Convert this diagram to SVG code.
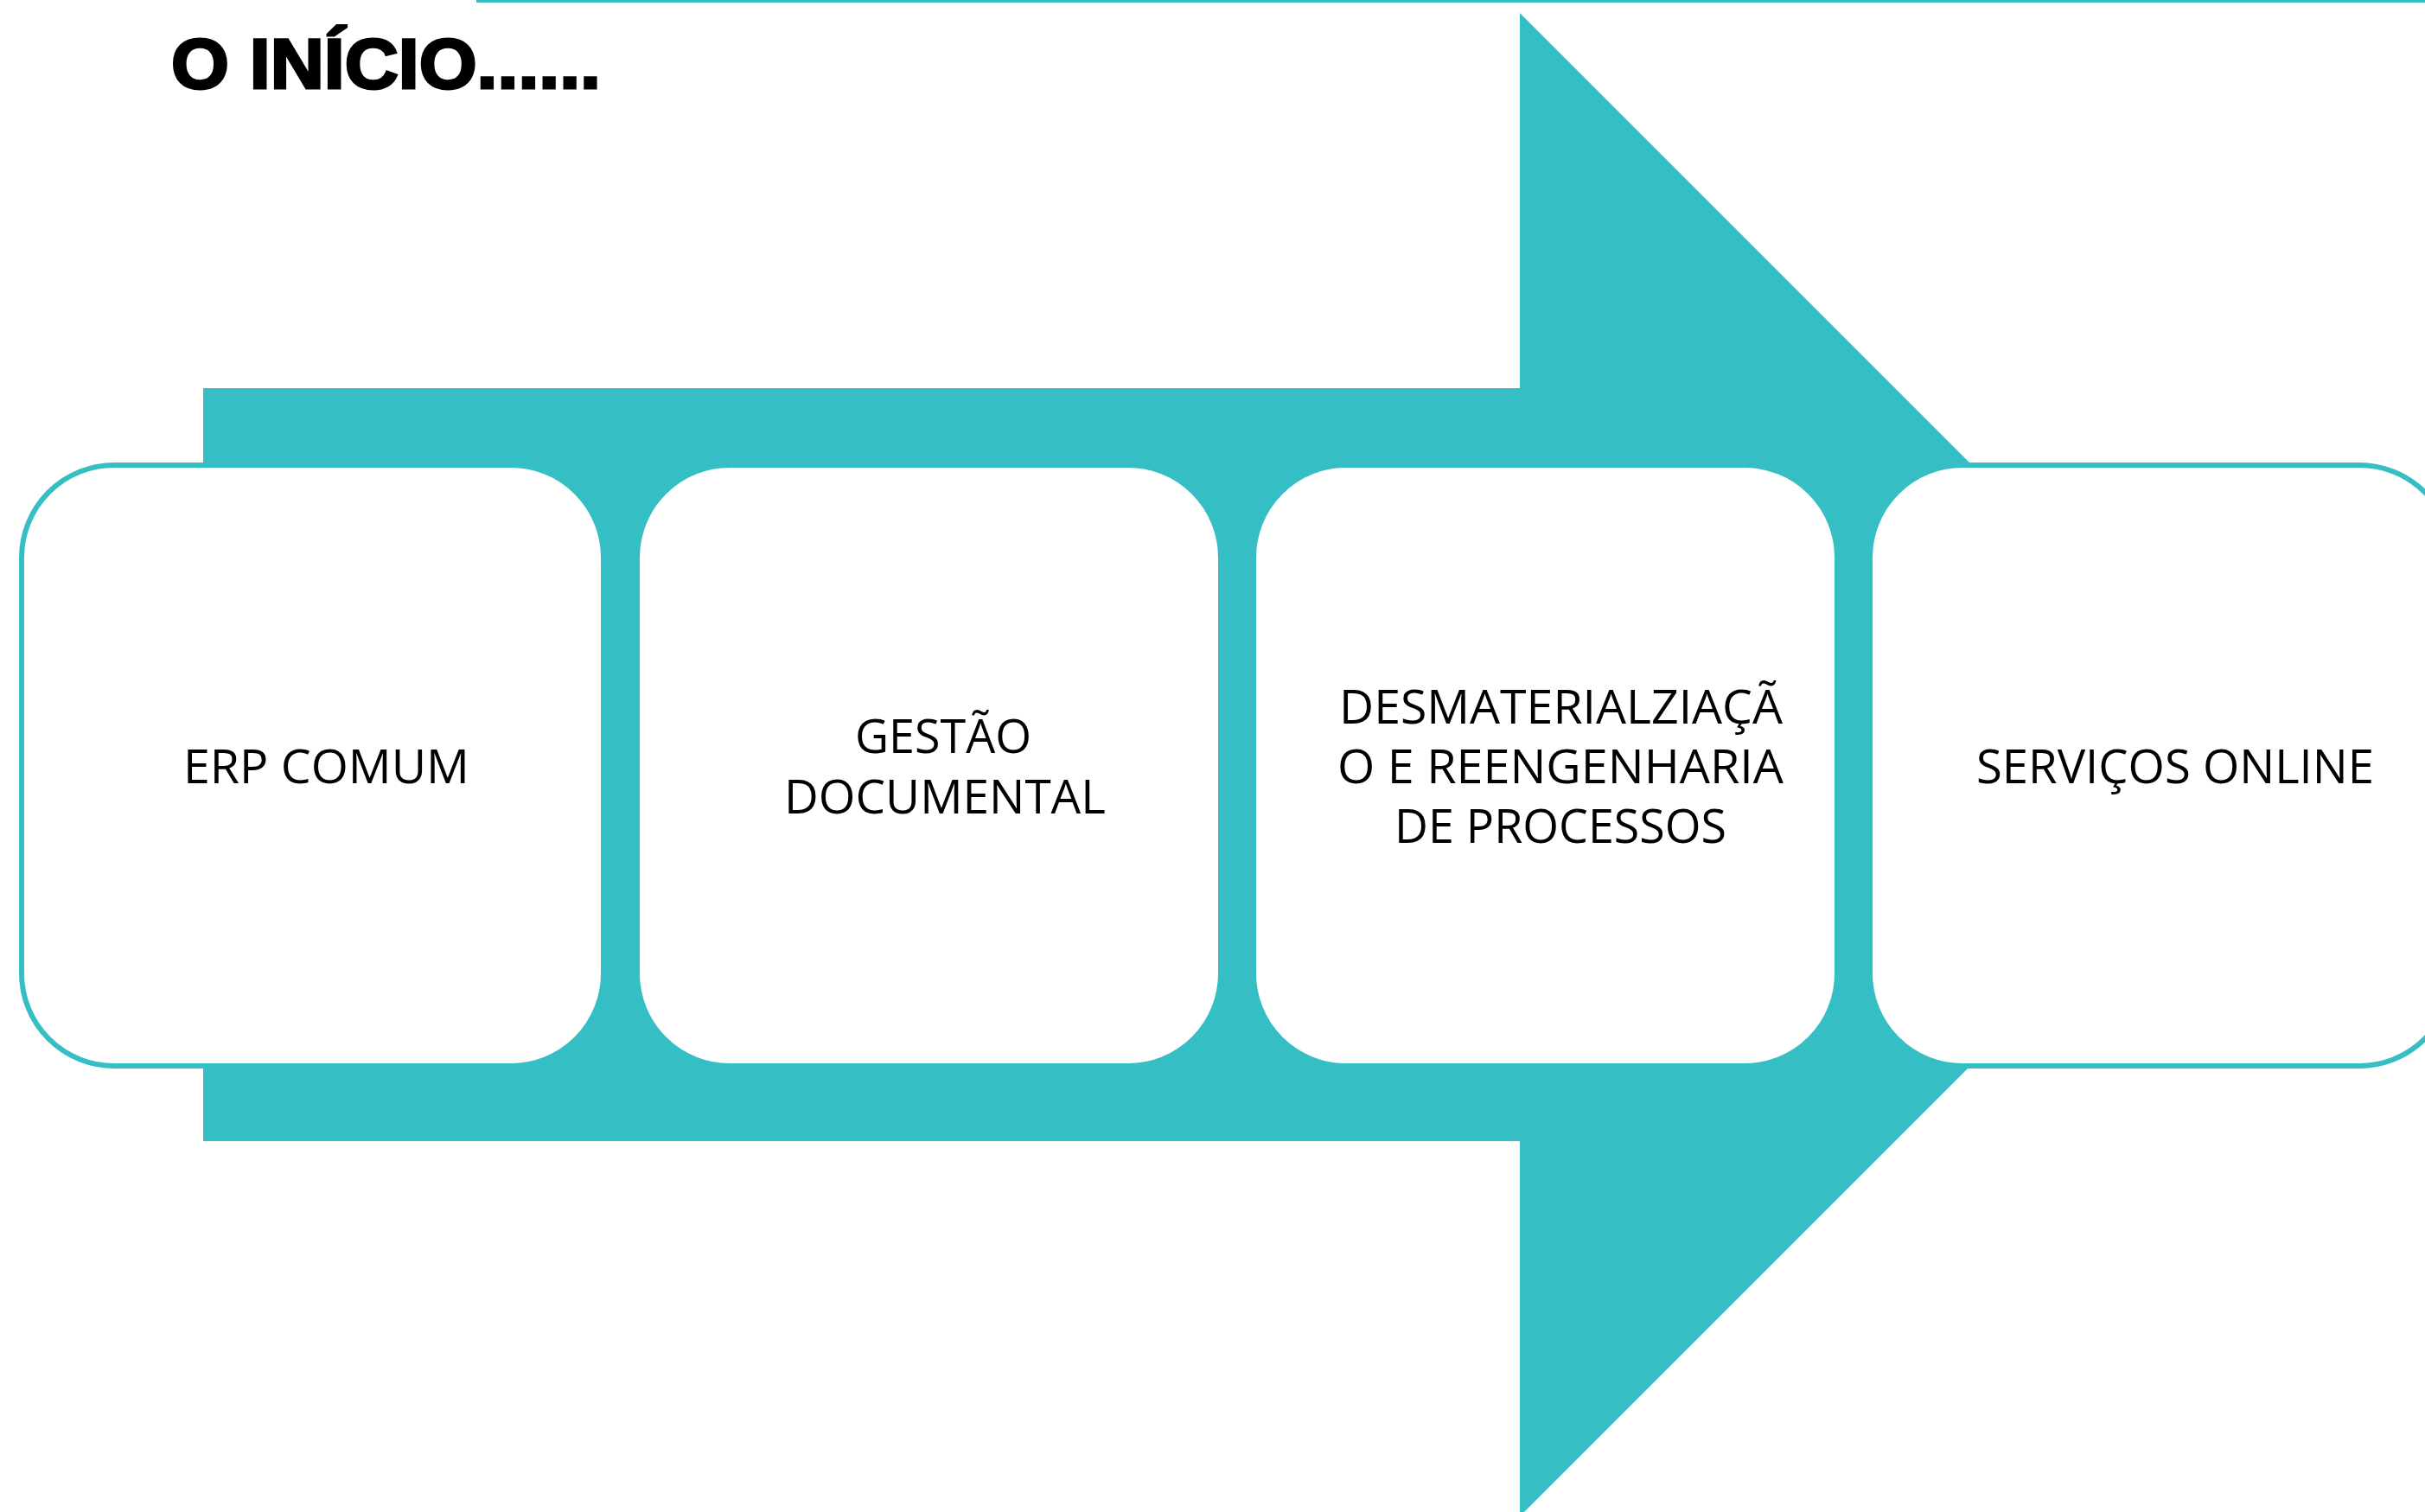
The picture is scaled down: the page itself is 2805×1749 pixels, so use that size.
<svg xmlns="http://www.w3.org/2000/svg" width="2805" height="1749" viewBox="0 0 2805 1749">
  <style>
    .box { fill: #FFFFFF; stroke: #35BFC4; stroke-width: 6; }
    .lbl { font-family: "Open Sans", "Noto Sans", "Liberation Sans", sans-serif; font-size: 55px; fill: #000000; text-anchor: middle; }
    .title { font-family: "Liberation Sans", Arial, sans-serif; font-weight: 900; font-size: 82px; fill: #000000; stroke: #000000; stroke-width: 3; }
  </style>
  <rect x="0" y="0" width="2805" height="1749" fill="#FFFFFF"/>
  <rect x="551" y="0" width="2254" height="3" fill="#35BFC4"/>
  <text class="title" x="198" y="102" textLength="497" lengthAdjust="spacingAndGlyphs">O INÍCIO......</text>

  <g id="connectors">
    <path id="arrow" d="M235 449 H1758 V15 L2627.5 884.5 L1758 1754 V1320 H235 Z" fill="#35BFC4"/>
  </g>

  <g id="node-erp">
    <rect class="box" x="25" y="538" width="673" height="695" rx="107" ry="107"/>
    <text class="lbl" x="377.5" y="906" textLength="331" lengthAdjust="spacingAndGlyphs">ERP COMUM</text>
  </g>

  <g id="node-gestao">
    <rect class="box" x="737" y="538" width="675" height="695" rx="107" ry="107"/>
    <text class="lbl" x="1091" y="871" textLength="204" lengthAdjust="spacingAndGlyphs">GESTÃO</text>
    <text class="lbl" x="1093" y="941" textLength="372" lengthAdjust="spacingAndGlyphs">DOCUMENTAL</text>
  </g>

  <g id="node-desmaterializacao">
    <rect class="box" x="1450" y="538" width="675" height="695" rx="107" ry="107"/>
    <text class="lbl" x="1805.5" y="837" textLength="513" lengthAdjust="spacingAndGlyphs">DESMATERIALZIAÇÃ</text>
    <text class="lbl" x="1805" y="906" textLength="516" lengthAdjust="spacingAndGlyphs">O E REENGENHARIA</text>
    <text class="lbl" x="1805" y="975" textLength="384" lengthAdjust="spacingAndGlyphs">DE PROCESSOS</text>
  </g>

  <g id="node-servicos">
    <rect class="box" x="2163" y="538" width="673" height="695" rx="107" ry="107"/>
    <text class="lbl" x="2516" y="906" textLength="460" lengthAdjust="spacingAndGlyphs">SERVIÇOS ONLINE</text>
  </g>
</svg>
